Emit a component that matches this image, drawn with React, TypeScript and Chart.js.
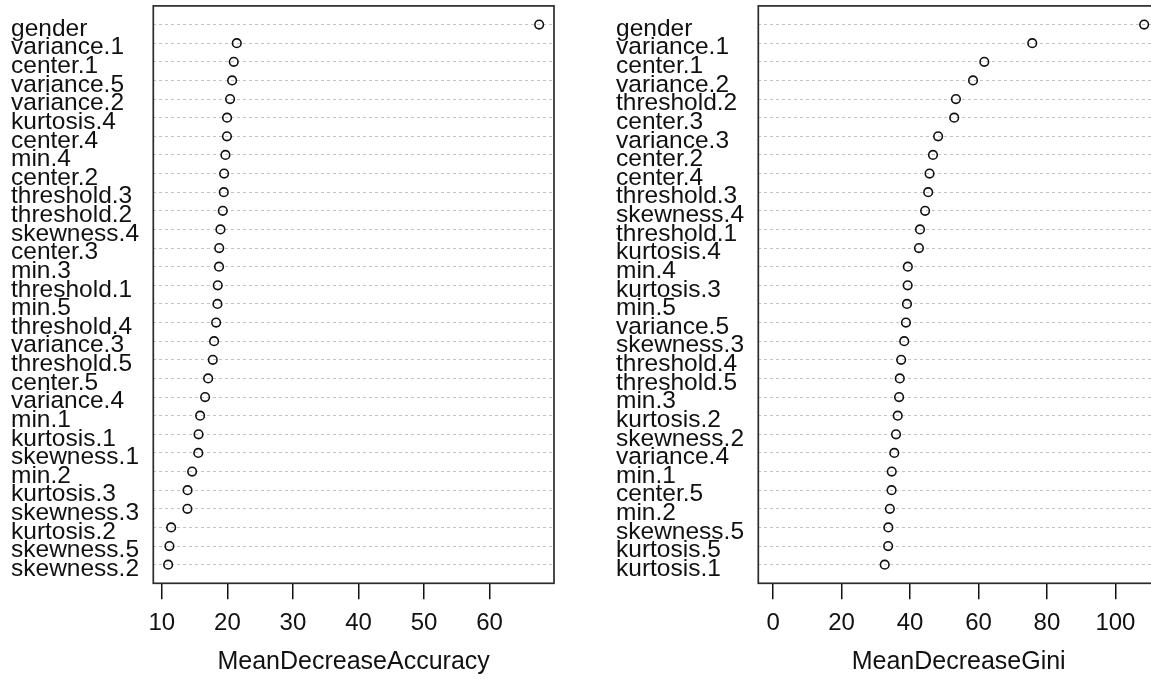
import React, { useEffect, useRef } from "react";
import { Chart, registerables } from "chart.js";

Chart.register(...registerables);

// Variable importance, ordered from most to least important (top row first).
const accuracyLabels = [
  "gender", "variance.1", "center.1", "variance.5", "variance.2", "kurtosis.4",
  "center.4", "min.4", "center.2", "threshold.3", "threshold.2", "skewness.4",
  "center.3", "min.3", "threshold.1", "min.5", "threshold.4", "variance.3",
  "threshold.5", "center.5", "variance.4", "min.1", "kurtosis.1", "skewness.1",
  "min.2", "kurtosis.3", "skewness.3", "kurtosis.2", "skewness.5", "skewness.2",
];
const accuracyValues = [
  67.56, 21.43, 20.97, 20.72, 20.41, 19.95,
  19.93, 19.7, 19.5, 19.45, 19.3, 18.94,
  18.75, 18.72, 18.53, 18.48, 18.28, 17.97,
  17.77, 17.06, 16.6, 15.84, 15.6, 15.56,
  14.62, 13.92, 13.9, 11.42, 11.16, 10.96,
];
const accuracyTicks = [10, 20, 30, 40, 50, 60];

const giniLabels = [
  "gender", "variance.1", "center.1", "variance.2", "threshold.2", "center.3",
  "variance.3", "center.2", "center.4", "threshold.3", "skewness.4", "threshold.1",
  "kurtosis.4", "min.4", "kurtosis.3", "min.5", "variance.5", "skewness.3",
  "threshold.4", "threshold.5", "min.3", "kurtosis.2", "skewness.2", "variance.4",
  "min.1", "center.5", "min.2", "skewness.5", "kurtosis.5", "kurtosis.1",
];
const giniValues = [
  108.4, 75.7, 61.7, 58.4, 53.4, 52.9,
  48.2, 46.7, 45.7, 45.3, 44.4, 42.9,
  42.6, 39.35, 39.3, 39.1, 38.8, 38.3,
  37.4, 37.0, 36.8, 36.4, 35.9, 35.4,
  34.65, 34.6, 34.1, 33.65, 33.6, 32.6,
];
const giniTicks = [0, 20, 40, 60, 80, 100];

const FONT = '"Liberation Sans", Arial, Helvetica, sans-serif';
const CANVAS_W = 580;
const CANVAS_H = 679;

// Axis range like R's dotchart: data range widened by 4% on each side.
function axisRange(values: number[], fromZero: boolean): [number, number] {
  const lo = fromZero ? 0 : Math.min(...values);
  const hi = Math.max(...values);
  const pad = (hi - lo) * 0.04;
  return [lo - pad, hi + pad];
}

type DotChartProps = {
  labels: string[];
  values: number[];
  ticks: number[];
  title: string;
  fromZero: boolean;
  left: number;
};

function DotChart({ labels, values, ticks, title, fromZero, left }: DotChartProps) {
  const ref = useRef<HTMLCanvasElement | null>(null);

  useEffect(() => {
    if (!ref.current) return;
    const n = labels.length;
    const [xmin, xmax] = axisRange(values, fromZero);
    const points = values.map((v, i) => ({ x: v, y: n - i }));

    // Plot frame plus the row labels, left-aligned in the margin.
    const framePlugin = {
      id: "dotFrame",
      beforeDatasetsDraw(chart: any) {
        const { ctx, chartArea: a } = chart;
        ctx.save();
        ctx.strokeStyle = "#2b2b2b";
        ctx.lineWidth = 1.7;
        ctx.strokeRect(a.left, a.top, a.right - a.left, a.bottom - a.top);
        ctx.restore();
      },
      afterDraw(chart: any) {
        const yScale = chart.scales.y;
        const ctx = chart.ctx;
        ctx.save();
        ctx.font = `24.5px ${FONT}`;
        ctx.fillStyle = "#111";
        ctx.textAlign = "left";
        ctx.textBaseline = "alphabetic";
        labels.forEach((lab, i) => {
          const py = yScale.getPixelForValue(n - i) + 11.3;
          ctx.fillText(lab, yScale.left, py);
        });
        ctx.restore();
      },
    };

    const chart = new Chart(ref.current, {
      type: "scatter",
      data: {
        datasets: [
          {
            data: points,
            pointStyle: "circle",
            pointRadius: 4.3,
            pointBorderWidth: 1.6,
            pointBorderColor: "#111",
            pointBackgroundColor: "rgba(0,0,0,0)",
            showLine: false,
          },
        ],
      },
      options: {
        animation: false,
        responsive: false,
        maintainAspectRatio: false,
        events: [],
        layout: { padding: { left: 11, right: CANVAS_W - 554, top: 5.7, bottom: 0 } },
        plugins: { legend: { display: false }, tooltip: { enabled: false } },
        scales: {
          x: {
            type: "linear",
            min: xmin,
            max: xmax,
            afterBuildTicks: (s: any) => {
              s.ticks = ticks.map((v) => ({ value: v }));
            },
            afterFit: (s: any) => {
              s.height = CANVAS_H - 583.3;
              s.paddingLeft = 0;
              s.paddingRight = 0;
            },
            grid: {
              drawOnChartArea: false,
              drawTicks: true,
              tickLength: 16,
              color: "#111",
              lineWidth: 1.5,
            },
            border: { display: false },
            ticks: {
              color: "#111",
              font: { family: FONT, size: 24 },
              padding: 10,
              maxRotation: 0,
              autoSkip: false,
            },
            title: {
              display: true,
              text: title,
              color: "#111",
              font: { family: FONT, size: 25 },
              padding: { top: 0, bottom: 2 },
            },
          },
          y: {
            type: "linear",
            min: 0,
            max: n + 1,
            afterBuildTicks: (s: any) => {
              s.ticks = labels.map((_, i) => ({ value: n - i }));
            },
            afterFit: (s: any) => {
              s.width = 142.3;
              s.paddingTop = 0;
              s.paddingBottom = 0;
            },
            grid: { drawTicks: false, color: "#c4c4c4", lineWidth: 1 },
            border: { display: false, dash: [3, 3] },
            ticks: { display: false },
          },
        },
      },
      plugins: [framePlugin],
    } as any);

    return () => chart.destroy();
  }, [labels, values, ticks, title, fromZero]);

  return (
    <canvas
      ref={ref}
      width={CANVAS_W}
      height={CANVAS_H}
      style={{ position: "absolute", left, top: 0, width: CANVAS_W, height: CANVAS_H }}
    />
  );
}

export default function App() {
  return (
    <div
      style={{
        position: "fixed",
        left: 0,
        top: 0,
        width: 1151,
        height: 679,
        overflow: "hidden",
        background: "#fff",
      }}
    >
      <DotChart
        labels={accuracyLabels}
        values={accuracyValues}
        ticks={accuracyTicks}
        title="MeanDecreaseAccuracy"
        fromZero={false}
        left={0}
      />
      <DotChart
        labels={giniLabels}
        values={giniValues}
        ticks={giniTicks}
        title="MeanDecreaseGini"
        fromZero={true}
        left={605}
      />
    </div>
  );
}
